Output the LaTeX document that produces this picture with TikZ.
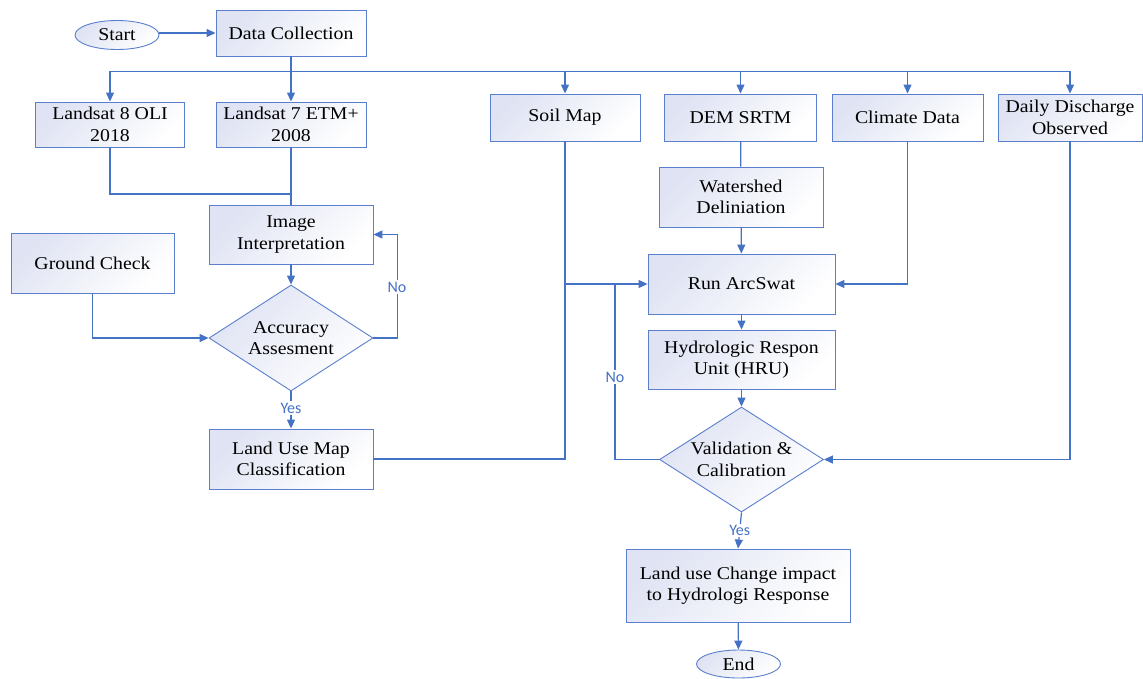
\documentclass[tikz,border=0pt]{standalone}
\usepackage{fontspec}
\setmainfont{Liberation Serif}[FakeStretch=1.1]
\newfontfamily\lblfont{Carlito}
\usetikzlibrary{arrows.meta,shapes.geometric}
\definecolor{ln}{HTML}{4472C4}
\definecolor{bd}{HTML}{5A7FCC}
\definecolor{lav}{HTML}{DFE3F3}
\tikzset{
  shadefill/.style={top color=lav, bottom color=white, shading angle=45},
  box/.style={rectangle, draw=bd, line width=0.9pt, shadefill, inner sep=0pt, align=center,
    font=\fontsize{18}{21.5}\selectfont},
  oval/.style={ellipse, draw=bd, line width=0.9pt, shadefill, inner sep=0pt,
    font=\fontsize{18}{21.5}\selectfont},
  dec/.style={diamond, shape aspect=1.55, draw=bd, line width=0.9pt, shadefill, inner sep=0pt,
    align=center, font=\fontsize{18}{21.5}\selectfont},
  conn/.style={draw=ln, line width=1.2pt},
  arr/.style={conn, -{Triangle[length=9pt,width=8pt]}},
  lbl/.style={font=\lblfont\fontsize{16}{18}\selectfont, text=ln, fill=white, inner sep=1.5pt}
}
\begin{document}
\begin{tikzpicture}[x=1pt,y=-1pt]
\useasboundingbox (0,0) rectangle (1143,678);
% nodes
\node[oval, minimum width=84pt, minimum height=29pt] (start) at (117,35) {Start};
\node[box, minimum width=150pt, minimum height=46pt] (dc) at (291,33) {Data Collection};
\node[box, minimum width=149pt, minimum height=45pt] (l8) at (110,124.5) {Landsat 8 OLI\\2018};
\node[box, minimum width=150pt, minimum height=45pt] (l7) at (291,124.5) {Landsat 7 ETM+\\2008};
\node[box, minimum width=150pt, minimum height=47pt] (soil) at (565,117.5) {Soil Map};
\node[box, minimum width=152pt, minimum height=47pt] (dem) at (740.5,117.5) {DEM SRTM};
\node[box, minimum width=151pt, minimum height=47pt] (clim) at (907.5,117.5) {Climate Data};
\node[box, minimum width=144pt, minimum height=47pt] (daily) at (1070,117.5) {Daily Discharge\\Observed};
\node[box, minimum width=164pt, minimum height=59pt] (ii) at (291,234.5) {Image\\Interpretation};
\node[box, minimum width=163pt, minimum height=60pt] (gc) at (92.5,263) {Ground Check};
\node[dec, minimum width=164pt, minimum height=106pt] (acc) at (291,338) {Accuracy\\Assesment};
\node[box, minimum width=164pt, minimum height=60pt] (lum) at (291,459) {Land Use Map\\Classification};
\node[box, minimum width=164pt, minimum height=60pt] (ws) at (741,197) {Watershed\\Deliniation};
\node[box, minimum width=187pt, minimum height=60pt] (run) at (741.5,284) {Run ArcSwat};
\node[box, minimum width=187pt, minimum height=59pt] (hru) at (741.5,359.5) {Hydrologic Respon\\Unit (HRU)};
\node[dec, minimum width=164pt, minimum height=105pt] (val) at (741.5,459.5) {Validation \&\\Calibration};
\node[box, minimum width=224pt, minimum height=73pt] (luc) at (738,585.5) {Land use Change impact\\to Hydrologi Response};
\node[oval, minimum width=84pt, minimum height=28pt] (end) at (738.5,664) {End};
% junctions
\coordinate (jb) at (291,71.5);
\coordinate (j2) at (291,194);
\coordinate (nox) at (615,284);
% connectors
\draw[arr] (start.east |- dc.west) -- (dc.west);
\draw[arr] (dc.south) -- (l7.north);
\draw[arr] (jb) -| (l8.north);
\draw[arr] (jb) -| (soil.north);
\draw[arr] (jb) -| (dem.north);
\draw[arr] (jb) -| (clim.north);
\draw[arr] (jb) -| (daily.north);
\draw[conn] (l8.south) |- (j2);
\draw[conn] (l7.south) -- (ii.north);
\draw[arr] (ii) -- (acc);
\draw[arr] (gc.south) |- (acc.west);
\draw[arr] (acc.east) -- ++(24,0) |- (ii.east);
\node[lbl] (no1) at (397,287) {No};
\draw[arr] (acc.south) -- node[lbl, pos=0.45] (yes1) {Yes} (lum.north);
\draw[conn] (lum.east) -| (soil.south);
\draw[arr] (soil.south |- run.west) -- (run.west);
\draw[conn] (dem) -- (ws);
\draw[arr] (ws) -- (run);
\draw[arr] (run) -- (hru);
\draw[arr] (hru) -- (val);
\draw[arr] (clim.south) |- (run.east);
\draw[arr] (daily.south) |- (val.east);
\draw[conn] (val.west) -| (nox);
\node[lbl] (no2) at (615,377) {No};
\draw[arr] (val.south) -- node[lbl, pos=0.5] (yes2) {Yes} (luc.north);
\draw[arr] (luc) -- (end);
\end{tikzpicture}
\end{document}
